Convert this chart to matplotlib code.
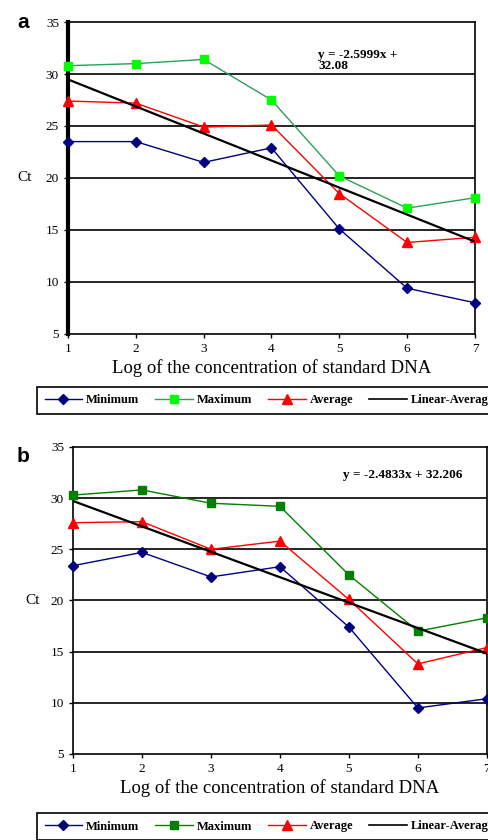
import matplotlib
matplotlib.use("Agg")
import matplotlib.pyplot as plt
from matplotlib.lines import Line2D

x = [1, 2, 3, 4, 5, 6, 7]

# panel a
a_min = [23.5, 23.5, 21.5, 22.9, 15.1, 9.4, 8.0]
a_max = [30.8, 31.0, 31.4, 27.5, 20.2, 17.1, 18.1]
a_avg = [27.4, 27.2, 24.9, 25.1, 18.5, 13.8, 14.3]
a_slope, a_icpt = -2.5999, 32.08

# panel b
b_min = [23.4, 24.7, 22.3, 23.3, 17.4, 9.5, 10.4]
b_max = [30.3, 30.8, 29.5, 29.2, 22.5, 17.0, 18.3]
b_avg = [27.6, 27.7, 25.0, 25.8, 20.1, 13.8, 15.4]
b_slope, b_icpt = -2.4833, 32.206

yticks = [5, 10, 15, 20, 25, 30, 35]
xlabel = "Log of the concentration of standard DNA"

plt.rcParams["font.family"] = "Liberation Serif"

fig = plt.figure(figsize=(4.88, 8.4), dpi=100)


def panel(rect, mn, mx, av, slope, icpt, max_line, max_mark, eq, eqpos, left_lw):
    ax = fig.add_axes(rect)
    for y in [10, 15, 20, 25, 30]:
        ax.axhline(y, color="black", lw=1.2, zorder=1)
    ax.plot(x, mn, color="#000080", marker="D", ms=5, lw=1, zorder=3, clip_on=False)
    ax.plot(x, mx, color=max_line, marker="s", ms=5.5, mfc=max_mark, mec=max_mark, lw=1,
            zorder=3, clip_on=False)
    ax.plot(x, av, color="red", marker="^", ms=6.5, lw=1, zorder=3, clip_on=False)
    ax.plot([1, 7], [slope * 1 + icpt, slope * 7 + icpt], color="black", lw=1.6, zorder=4)
    ax.set_xlim(1, 7)
    ax.set_ylim(5, 35)
    ax.set_yticks(yticks)
    ax.set_xticks(x)
    ax.tick_params(labelsize=9.5, length=3, width=1, direction="out")
    for s in ax.spines.values():
        s.set_linewidth(1.2)
    ax.spines["left"].set_linewidth(left_lw)
    ax.set_xlabel(xlabel, fontsize=13.5, labelpad=3)
    ax.text(eqpos[0], eqpos[1], eq, fontsize=9.5, fontweight="bold", va=eqpos[2],
            linespacing=0.85)
    return ax


ax1 = panel([0.1393, 0.6024, 0.834, 0.3714], a_min, a_max, a_avg, a_slope, a_icpt,
            "#2e9e5e", "#00ff00", "y = -2.5999x +\n32.08", (4.69, 32.4, "top"), 3)
ax2 = panel([0.1496, 0.1024, 0.848, 0.3655], b_min, b_max, b_avg, b_slope, b_icpt,
            "#008000", "#008000", "y = -2.4833x + 32.206", (4.91, 32.3, "center"), 1.2)

ax1.set_ylabel("Ct", fontsize=11, rotation=0, labelpad=15, va="center")
ax2.set_ylabel("Ct", fontsize=11, rotation=0, labelpad=13, va="center")

fig.text(17 / 488, 1 - 22 / 840, "a", fontsize=15, fontweight="bold", family="Liberation Sans", va="center")
fig.text(17 / 488, 1 - 457 / 840, "b", fontsize=15, fontweight="bold", family="Liberation Sans", va="center")


def legend(y_top, max_line, max_mark):
    h = [
        Line2D([], [], color="#000080", marker="D", ms=5, lw=1),
        Line2D([], [], color=max_line, marker="s", ms=5.5, mfc=max_mark, mec=max_mark, lw=1),
        Line2D([], [], color="red", marker="^", ms=6.5, lw=1),
        Line2D([], [], color="black", lw=1.2),
    ]
    lg = fig.legend(h, ["Minimum", "Maximum", "Average", "Linear-Average"], ncol=4,
                    loc="upper left", bbox_to_anchor=(37 / 488, y_top), borderaxespad=0,
                    fancybox=False, edgecolor="black", framealpha=1,
                    prop={"weight": "bold", "size": 9},
                    handlelength=3.0, columnspacing=1.3, handletextpad=0.3, borderpad=0.6)
    lg.get_frame().set_linewidth(1.2)


legend(1 - 387 / 840, "#2e9e5e", "#00ff00")
legend(1 - 813 / 840, "#008000", "#008000")

fig.savefig("out.png", dpi=100)
